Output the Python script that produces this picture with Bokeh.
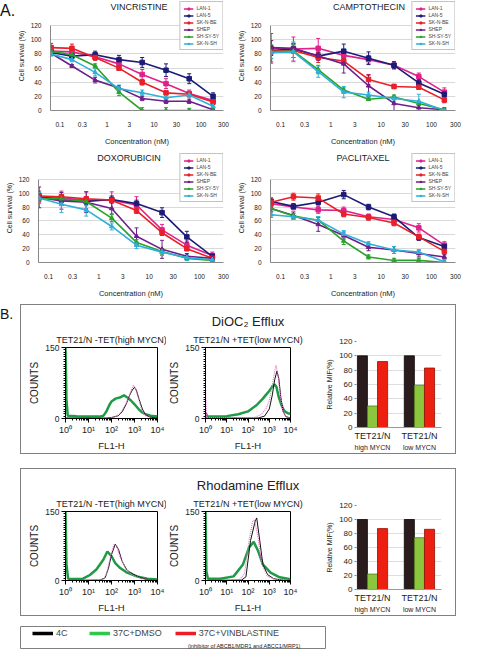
from bokeh.plotting import figure
from bokeh.layouts import row, column
from bokeh.models import (Range1d, FixedTicker, CustomJSTickFormatter, Whisker, TeeHead,
                          ColumnDataSource, Legend, LegendItem, Label, Title, LinearAxis,
                          Spacer, Div)
from bokeh.embed import file_html
from bokeh.resources import INLINE

FONT = "Liberation Sans"

# ---------------- Panel A data ----------------
conc_nM = [0.065, 0.18, 0.56, 1.8, 5.6, 18, 56, 180]
conc_ticks = [0.1, 0.3, 1, 3, 10, 30, 100, 300]
survival_ticks = [0, 20, 40, 60, 80, 100, 120]
cell_lines = ["LAN-1", "LAN-5", "SK-N-BE", "SHEP", "SH-SY-5Y", "SK-N-SH"]
line_colors = ["#e0218a", "#1c1c78", "#e8202a", "#6e1f8a", "#2aa32a", "#2eb0d8"]
line_markers = ["square", "square", "square", "triangle", "triangle", "triangle"]

vincristine_mean = [
    [84, 83, 76, 66, 51, 38, 24, 14],
    [82, 77, 79, 72, 68, 57, 45, 20],
    [89, 88, 75, 60, 40, 25, 23, 12],
    [81, 63, 43, 32, 17, 13, 13, 1],
    [84, 79, 63, 26, 0, 0, 0, 0],
    [80, 72, 54, 31, 25, 18, 22, 6],
]
vincristine_sd = [
    [4, 3, 4, 5, 7, 7, 5, 4],
    [4, 4, 5, 6, 7, 9, 7, 5],
    [6, 6, 4, 3, 4, 2, 2, 3],
    [3, 2, 4, 3, 3, 3, 3, 1],
    [3, 2, 3, 5, 4, 4, 3, 2],
    [3, 3, 5, 5, 4, 3, 3, 3],
]
camptothecin_mean = [
    [88, 87, 88, 78, 72, 64, 48, 26],
    [85, 87, 77, 84, 74, 64, 39, 23],
    [84, 85, 75, 70, 44, 34, 33, 15],
    [89, 88, 77, 66, 35, 10, 4, 1],
    [83, 84, 58, 29, 16, 19, 10, 1],
    [82, 83, 55, 26, 22, 17, 13, 0],
]
camptothecin_sd = [
    [21, 17, 14, 5, 6, 5, 5, 6],
    [7, 6, 5, 10, 9, 5, 5, 4],
    [15, 10, 7, 5, 7, 3, 3, 4],
    [10, 7, 6, 13, 15, 10, 4, 3],
    [10, 9, 6, 3, 2, 3, 3, 2],
    [8, 14, 8, 8, 4, 4, 10, 2],
]
doxorubicin_mean = [
    [95, 93, 90, 90, 83, 47, 25, 10],
    [94, 91, 88, 91, 85, 72, 37, 9],
    [96, 95, 92, 90, 75, 43, 20, 6],
    [94, 89, 87, 78, 38, 19, 9, 6],
    [92, 92, 88, 64, 29, 16, 6, 3],
    [93, 84, 76, 52, 25, 15, 7, 4],
]
doxorubicin_sd = [
    [8, 10, 12, 12, 12, 8, 6, 5],
    [5, 5, 4, 5, 5, 7, 8, 4],
    [4, 3, 3, 3, 4, 4, 3, 2],
    [15, 12, 15, 8, 12, 13, 4, 3],
    [4, 5, 6, 5, 4, 4, 3, 2],
    [8, 12, 9, 5, 5, 5, 4, 2],
]
paclitaxel_mean = [
    [85, 80, 76, 75, 66, 62, 50, 25],
    [88, 81, 87, 98, 80, 66, 36, 23],
    [87, 95, 93, 70, 65, 57, 37, 16],
    [78, 68, 55, 39, 22, 18, 13, 8],
    [78, 67, 61, 31, 8, 3, 3, 0],
    [69, 66, 61, 41, 27, 18, 15, 1],
]
paclitaxel_sd = [
    [5, 4, 5, 5, 4, 4, 6, 5],
    [5, 4, 4, 6, 4, 4, 4, 4],
    [6, 5, 6, 4, 4, 4, 4, 4],
    [5, 5, 10, 5, 5, 5, 5, 3],
    [4, 4, 5, 5, 3, 3, 3, 2],
    [4, 4, 5, 5, 3, 5, 3, 3],
]

# ---------------- Panel B data ----------------
fl_ticks = [1, 10, 100, 1000, 10000]
count_ticks = [0, 150]

dioc_high_green_fl = [1, 1.1, 1.25, 3, 10, 30, 45, 60, 80, 100, 150, 250, 350, 500, 700, 1000, 1500, 2000, 3000, 5000, 10000]
dioc_high_green_ct = [150, 40, 6, 5, 4, 4, 6, 15, 28, 36, 42, 45, 49, 44, 38, 30, 20, 14, 9, 6, 4]
dioc_high_black_fl = [1, 60, 100, 200, 300, 450, 600, 800, 1000, 1200, 1600, 2200, 3000, 4500, 10000]
dioc_high_black_ct = [1, 1, 2, 6, 15, 32, 48, 60, 66, 60, 40, 20, 8, 3, 1]
dioc_high_pink_fl = [1, 80, 150, 250, 400, 550, 750, 900, 1100, 1500, 2000, 3000, 5000, 10000]
dioc_high_pink_ct = [0, 1, 4, 12, 28, 45, 62, 70, 64, 42, 20, 6, 1, 0]

dioc_low_green_fl = [1, 1.2, 3, 10, 35, 100, 250, 500, 700, 1000, 1400, 1800, 2200, 2800, 3800, 5000, 7500, 10000]
dioc_low_green_ct = [12, 5, 4, 5, 9, 15, 28, 42, 50, 58, 68, 72, 66, 45, 28, 16, 11, 10]
dioc_low_black_fl = [1, 300, 600, 1000, 1400, 1800, 2300, 2800, 3500, 4500, 6000, 10000]
dioc_low_black_ct = [1, 1, 5, 20, 50, 82, 100, 85, 45, 15, 4, 1]
dioc_low_pink_fl = [1, 1.1, 200, 400, 700, 1000, 1400, 1800, 2100, 2600, 3300, 4300, 6000, 10000]
dioc_low_pink_ct = [60, 2, 2, 8, 20, 38, 70, 100, 112, 90, 50, 18, 4, 1]

rhod_high_green_fl = [1, 1.1, 1.3, 3, 5.8, 11.5, 22, 44, 66, 100, 145, 240, 475, 1260, 3600, 10000]
rhod_high_green_ct = [150, 35, 4, 3, 4, 12, 24, 45, 63, 53, 38, 27, 17, 9, 4, 2]
rhod_high_black_fl = [1, 32, 53, 74, 100, 145, 204, 288, 480, 940, 1800, 5000, 10000]
rhod_high_black_ct = [0, 1, 6, 27, 56, 79, 67, 42, 22, 13, 6, 1, 0]
rhod_high_pink_fl = [1, 44, 62, 88, 128, 165, 240, 420, 800, 1800, 5000, 10000]
rhod_high_pink_ct = [0, 2, 15, 50, 78, 75, 50, 25, 12, 5, 1, 0]

rhod_low_green_fl = [1, 1.1, 1.3, 5, 21, 58, 112, 186, 300, 500, 1150, 3100, 10000]
rhod_low_green_ct = [150, 20, 4, 4, 9, 35, 72, 84, 64, 35, 17, 7, 3]
rhod_low_black_fl = [1, 50, 80, 132, 218, 257, 357, 500, 830, 1600, 4000, 10000]
rhod_low_black_ct = [0, 1, 8, 87, 129, 136, 87, 35, 13, 4, 1, 0]
rhod_low_pink_fl = [1, 40, 68, 112, 166, 204, 300, 450, 830, 2000, 10000]
rhod_low_pink_ct = [0, 2, 14, 87, 129, 132, 92, 35, 9, 2, 0]

mif_line1 = ["TET21/N", "TET21/N"]
mif_line2 = ["high MYCN", "low MYCN"]
mif_ticks = [0, 20, 40, 60, 80, 100, 120]
treatments = ["4C", "37C+DMSO", "37C+VINBLASTINE"]
dioc_mif = {"4C": [100, 100], "37C+DMSO": [30, 59], "37C+VINBLASTINE": [92, 83]}
rhod_mif = {"4C": [100, 100], "37C+DMSO": [22, 74], "37C+VINBLASTINE": [87, 86]}
bar_fill = ["#2a1c1d", "#8cc63e", "#ec1f10"]
bar_edge = ["#0a0505", "#4f7d1c", "#8f1208"]
legend_colors = ["#000000", "#2ec84a", "#ee1c24"]


def style_text_axis(ax, tick_size, label_size):
    ax.major_label_text_font = FONT
    ax.axis_label_text_font = FONT
    ax.major_label_text_font_size = tick_size
    ax.axis_label_text_font_size = label_size
    ax.axis_label_text_font_style = "normal"
    ax.major_label_text_color = "#222222"
    ax.axis_label_text_color = "#222222"


def drug_fig(name, means, sds, width, left, right, height, top_ext, top120, frame_h,
             title_dx=0):
    # frame is extended above the 120 line so that the title and legend sit inside it
    extra = top120 - top_ext
    ymax = 120 * (frame_h + extra) / frame_h
    frame_w = width - left - right
    p = figure(width=width, height=height, title=None, x_axis_type="log",
               x_range=Range1d(0.063, 300), y_range=Range1d(0, ymax),
               output_backend="svg", toolbar_location=None,
               min_border_left=left, min_border_right=right, min_border_top=top_ext,
               min_border_bottom=height - top120 - frame_h)
    p.outline_line_color = None
    p.xgrid.grid_line_color = None
    p.ygrid.grid_line_color = "#d9d9d9"
    xa = p.xaxis[0]
    xa.ticker = FixedTicker(ticks=conc_ticks, minor_ticks=[])
    xa.formatter = CustomJSTickFormatter(code="return tick.toString();")
    xa.axis_label = "Concentration (nM)"
    style_text_axis(xa, "6.5px", "7.5px")
    xa.axis_line_color = "#888888"
    xa.major_tick_line_color = None
    xa.minor_tick_line_color = None
    xa.major_label_standoff = 5
    xa.axis_label_standoff = 7
    ya = p.yaxis[0]
    ya.ticker = FixedTicker(ticks=survival_ticks, minor_ticks=[])
    ya.bounds = (0, 120)
    ya.axis_label = "Cell survival (%)"
    style_text_axis(ya, "6.5px", "7px")
    ya.axis_line_color = "#888888"
    ya.major_tick_line_color = None
    ya.minor_tick_line_color = None
    ya.major_label_standoff = 3
    ya.axis_label_standoff = 3

    items = []
    for i, cl in enumerate(cell_lines):
        m = means[i]
        s = sds[i]
        src = ColumnDataSource(dict(x=conc_nM, y=m,
                                    lo=[a - b for a, b in zip(m, s)],
                                    hi=[a + b for a, b in zip(m, s)]))
        c = line_colors[i]
        w = Whisker(source=src, base="x", lower="lo", upper="hi",
                    line_color=c, line_width=1,
                    upper_head=TeeHead(size=4, line_color=c, line_width=1),
                    lower_head=TeeHead(size=4, line_color=c, line_width=1))
        p.add_layout(w)
        rl = p.line("x", "y", source=src, line_color=c, line_width=1.6)
        rs = p.scatter("x", "y", source=src, marker=line_markers[i], size=4.5,
                       fill_color=c, line_color=c)
        items.append(LegendItem(label=cl, renderers=[rl, rs]))
    leg = Legend(items=items, location="top_right", margin=0,
                 label_text_font=FONT, label_text_font_size="5px",
                 glyph_width=10, glyph_height=5, label_height=5, label_standoff=3,
                 spacing=1, padding=3,
                 border_line_color="#888888", background_fill_color="white",
                 background_fill_alpha=1)
    p.add_layout(leg)
    # chart title, inside the (extended) frame
    p.add_layout(Label(x=frame_w / 2 + title_dx, y=(top120 + frame_h) - (top_ext + 13),
                       x_units="screen", y_units="screen", text=name,
                       text_align="center", text_baseline="alphabetic",
                       text_font=FONT, text_font_size="9px", text_color="#222222"))
    return p


def hist_fig(width, height, left, right, frame_h, curves, subtitle, sub_offset,
             main=None, main_offset=0):
    p = figure(width=width, height=height, title=None, x_axis_type="log",
               x_range=Range1d(1, 10000), y_range=Range1d(0, 150),
               output_backend="svg", toolbar_location=None,
               min_border_left=left, min_border_right=right, min_border_top=42,
               min_border_bottom=height - 42 - frame_h)
    p.outline_line_color = "black"
    p.grid.grid_line_color = None
    for fl, ct, color, lw, dash in curves:
        p.line(fl, ct, line_color=color, line_width=lw, line_dash=dash)
    xa = p.xaxis[0]
    minors = [m * d for d in [1, 10, 100, 1000] for m in range(2, 10)]
    xa.ticker = FixedTicker(ticks=fl_ticks, minor_ticks=minors)
    xa.formatter = CustomJSTickFormatter(code="""
        const sup = ["\u2070", "\u00b9", "\u00b2", "\u00b3", "\u2074"];
        const e = Math.round(Math.log10(tick));
        return "10" + sup[e];""")
    xa.axis_label = "FL1-H"
    style_text_axis(xa, "9px", "9.5px")
    ya = p.yaxis[0]
    ya.ticker = FixedTicker(ticks=count_ticks, minor_ticks=list(range(0, 151, 5)))
    ya.axis_label = "COUNTS"
    style_text_axis(ya, "8.5px", "10px")
    for ax in (xa, ya):
        ax.axis_line_color = "black"
        ax.major_tick_line_color = "black"
        ax.minor_tick_line_color = "black"
        ax.major_tick_out = 4
        ax.major_tick_in = 0
        ax.minor_tick_out = 2
        ax.minor_tick_in = 0
        ax.major_label_standoff = 2
        ax.axis_label_standoff = 2
    p.add_layout(Title(text=subtitle, align="center", offset=sub_offset, text_font=FONT,
                       text_font_size="9px", text_font_style="normal",
                       text_color="#222222", standoff=5), "above")
    if main:
        p.add_layout(Title(text=main, align="center", offset=main_offset, text_font=FONT,
                           text_font_size="13px", text_font_style="normal",
                           text_color="#222222", standoff=4), "above")
    return p


def bar_fig(width, height, left, right, top, frame_h, mif):
    p = figure(title=None, width=width, height=height,
               x_range=Range1d(0.66, 2.47),
               y_range=Range1d(0, 120), output_backend="svg", toolbar_location=None,
               min_border_left=left, min_border_right=right, min_border_top=top,
               min_border_bottom=height - top - frame_h)
    p.outline_line_color = None
    p.xgrid.grid_line_color = None
    p.ygrid.grid_line_color = "#dddddd"
    bw = 0.215
    for j, t in enumerate(treatments):
        vals = mif[t]
        xs = [g + 1 + (j - 1) * bw for g in range(len(vals))]
        p.vbar(x=xs, top=vals, width=bw, fill_color=bar_fill[j],
               line_color=bar_edge[j], line_width=0.8)
    ya = p.yaxis[0]
    ya.ticker = FixedTicker(ticks=mif_ticks, minor_ticks=[])
    ya.axis_label = "Relative MIF(%)"
    style_text_axis(ya, "8px", "7px")
    ya.axis_line_color = None
    ya.major_tick_line_color = "#888888"
    ya.major_tick_out = 2
    ya.major_tick_in = 0
    ya.minor_tick_line_color = None
    ya.major_label_standoff = 2
    ya.axis_label_standoff = 3
    xa = p.xaxis[0]
    xa.ticker = FixedTicker(ticks=[1, 2], minor_ticks=[])
    xa.formatter = CustomJSTickFormatter(args=dict(labels=mif_line1),
                                         code="return labels[Math.round(tick) - 1];")
    style_text_axis(xa, "9px", "8px")
    xa.axis_line_color = "#999999"
    xa.major_tick_line_color = None
    xa.minor_tick_line_color = None
    xa.major_tick_out = 0
    xa.minor_tick_out = 0
    xa.major_label_standoff = 3
    xa.axis_label_standoff = 0
    xb = LinearAxis(ticker=FixedTicker(ticks=[1, 2], minor_ticks=[]),
                    formatter=CustomJSTickFormatter(args=dict(labels=mif_line2),
                                                    code="return labels[Math.round(tick) - 1];"),
                    axis_line_color=None, major_tick_line_color=None,
                    minor_tick_line_color=None, major_tick_out=0, minor_tick_out=0,
                    major_label_standoff=0, axis_label_standoff=0,
                    major_label_text_font=FONT, major_label_text_font_size="7px",
                    major_label_text_color="#222222")
    p.add_layout(xb, "below")
    return p


GREEN = "#1f9a45"
BLACK = "#111111"
PINK = "#e07ac8"

A1 = drug_fig("VINCRISTINE", vincristine_mean, vincristine_sd, 218, 24, 9, 148, 1, 27, 91, -4)
A2 = drug_fig("CAMPTOTHECIN", camptothecin_mean, camptothecin_sd, 232, 38, 9, 148, 1, 27, 91, 6)
A3 = drug_fig("DOXORUBICIN", doxorubicin_mean, doxorubicin_sd, 232, 38, 9, 152, 5, 33, 90, -2)
A4 = drug_fig("PACLITAXEL", paclitaxel_mean, paclitaxel_sd, 232, 38, 9, 152, 5, 33, 90, 0)

h1 = hist_fig(145, 148, 44, 9, 72,
              [(dioc_high_green_fl, dioc_high_green_ct, GREEN, 2.5, "solid"),
               (dioc_high_black_fl, dioc_high_black_ct, BLACK, 1, "solid"),
               (dioc_high_pink_fl, dioc_high_pink_ct, PINK, 1.2, "1 1")],
              "TET21/N -TET(high MYCN)", -4)
h2 = hist_fig(144, 148, 32, 20, 72,
              [(dioc_low_green_fl, dioc_low_green_ct, GREEN, 2.5, "solid"),
               (dioc_low_black_fl, dioc_low_black_ct, BLACK, 1, "solid"),
               (dioc_low_pink_fl, dioc_low_pink_ct, PINK, 1.2, "1 1")],
              "TET21/N +TET(low MYCN)", 0, main="DiOC\u2082 Efflux", main_offset=6)
b1 = bar_fig(145, 148, 46, 14, 36, 86, dioc_mif)

h3 = hist_fig(145, 146, 44, 9, 69,
              [(rhod_high_green_fl, rhod_high_green_ct, GREEN, 2.5, "solid"),
               (rhod_high_black_fl, rhod_high_black_ct, BLACK, 1, "solid"),
               (rhod_high_pink_fl, rhod_high_pink_ct, PINK, 1.2, "1 1")],
              "TET21/N -TET(high MYCN)", -4)
h4 = hist_fig(144, 146, 32, 20, 69,
              [(rhod_low_green_fl, rhod_low_green_ct, GREEN, 2.5, "solid"),
               (rhod_low_black_fl, rhod_low_black_ct, BLACK, 1, "solid"),
               (rhod_low_pink_fl, rhod_low_pink_ct, PINK, 1.2, "1 1")],
              "TET21/N +TET(low MYCN)", 0, main="Rhodamine Efflux", main_offset=6)
b2 = bar_fig(145, 146, 46, 14, 36, 84, rhod_mif)

box_style = {"border": "1px solid #808080"}
# each plot gets its own column so that the row does not force their frames to align
box1 = column(row(column(h1), column(h2), column(b1)), styles=box_style)
box2 = column(row(column(h3), column(h4), column(b2)), styles=box_style)

lg = figure(width=306, height=23, x_range=Range1d(0, 1), y_range=Range1d(0, 1),
            x_axis_location=None, y_axis_location=None, min_border=0,
            output_backend="svg", toolbar_location=None)
lg.grid.visible = False
lg.outline_line_color = "#808080"
litems = []
nan = float("nan")
for t, c in zip(treatments, legend_colors):
    r = lg.line(x=[nan, nan], y=[nan, nan], line_color=c, line_width=3.5)
    litems.append(LegendItem(label=t, renderers=[r]))
lg.add_layout(Legend(items=litems, orientation="horizontal", location=(12, 11),
                     label_text_font=FONT, label_text_font_size="9px",
                     glyph_width=21, glyph_height=8, label_height=9, label_standoff=3,
                     spacing=13, padding=0, margin=0, border_line_color=None,
                     background_fill_alpha=0))
lg.add_layout(Label(x=224, y=1, x_units="screen", y_units="screen",
                    text="(inhibitor of ABCB1/MDR1 and ABCC1/MRP1)", text_align="center",
                    text_font=FONT, text_font_size="5.5px", text_color="#222222"))

adiv = Div(text="<span style='font-family:Liberation Sans;font-size:16px;color:#111'>A.</span>",
           width=14, height=148, margin=0)
bdiv = Div(text="<span style='font-family:Liberation Sans;font-size:14px;color:#111'>B.</span>",
           width=20, height=20, margin=0)

layout = column(
    row(adiv, A1, A2),
    row(A3, A4),
    Spacer(height=4),
    row(bdiv, box1),
    Spacer(height=14),
    row(Spacer(width=20), box2),
    Spacer(height=10),
    row(Spacer(width=20), lg),
)

open("out.html", "w").write(file_html(layout, INLINE))
